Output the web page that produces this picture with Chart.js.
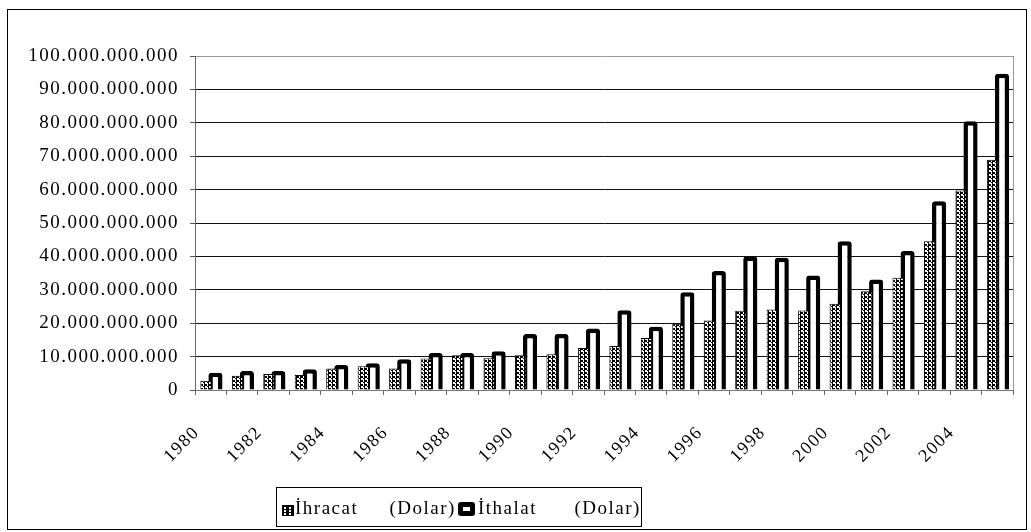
<!DOCTYPE html>
<html>
<head>
<meta charset="utf-8">
<script src="https://cdn.jsdelivr.net/npm/chart.js@4.4.1/dist/chart.umd.min.js"></script>
<style>
  html, body { margin: 0; padding: 0; background: #fff; }
  #wrap { width: 1031px; height: 532px; }
</style>
</head>
<body>
<div id="wrap"><canvas id="tradeChart" width="1031" height="532"></canvas></div>
<script>
const years = ['1980', '1981', '1982', '1983', '1984', '1985', '1986', '1987', '1988', '1989',
    '1990', '1991', '1992', '1993', '1994', '1995', '1996', '1997', '1998', '1999',
    '2000', '2001', '2002', '2003', '2004', '2005'];

const ihracat = [2.8e9, 4.3e9, 4.8e9, 4.5e9, 6.4e9, 7.1e9, 6.4e9, 9.4e9, 10.4e9, 9.5e9,
    10.4e9, 10.7e9, 12.6e9, 13.2e9, 15.6e9, 19.8e9, 20.8e9, 23.7e9, 24.1e9, 23.8e9,
    25.8e9, 29.6e9, 33.6e9, 44.5e9, 59.7e9, 68.9e9];

const ithalat = [5.2e9, 5.7e9, 5.7e9, 6.2e9, 7.5e9, 8.0e9, 9.2e9, 11.1e9, 11.1e9, 11.6e9,
    16.8e9, 16.8e9, 18.4e9, 23.9e9, 18.9e9, 29.3e9, 35.6e9, 40.0e9, 39.6e9, 34.3e9,
    44.5e9, 33.1e9, 41.6e9, 56.5e9, 80.5e9, 94.7e9];

const seriesNames = ['İhracat     (Dolar)', 'İthalat      (Dolar)'];

const yMax = 100e9;
const yStep = 10e9;

// dotted "film strip" fill for the export bars
function makePattern() {
    const tile = document.createElement('canvas');
    tile.width = 4;
    tile.height = 4;
    const t = tile.getContext('2d');
    t.fillStyle = '#fff';
    t.fillRect(0, 0, 4, 4);
    t.fillStyle = '#000';
    t.fillRect(0, 0, 1, 4);
    t.fillRect(1, 0, 2, 2);
    t.fillRect(3, 2, 1, 1);
    return t.createPattern(tile, 'repeat');
}

function dotted(n) {
    return String(n).replace(/\B(?=(\d{3})+(?!\d))/g, '.');
}

Chart.defaults.font.family = "'Liberation Serif', 'Times New Roman', serif";
Chart.defaults.color = '#000';

const spacing = {
    id: 'spacing',
    beforeLayout(chart) { chart.ctx.letterSpacing = '1.5px'; },
    beforeDraw(chart) { chart.ctx.letterSpacing = '1.5px'; }
};

const frame = {
    id: 'frame',
    afterDraw(chart) {
        const ctx = chart.ctx;
        const area = chart.chartArea;
        ctx.save();
        // plot area right edge
        ctx.strokeStyle = '#999';
        ctx.lineWidth = 1;
        ctx.beginPath();
        ctx.moveTo(Math.round(area.right) + 0.5, area.top);
        ctx.lineTo(Math.round(area.right) + 0.5, area.bottom);
        ctx.stroke();

        // outer border
        ctx.strokeStyle = '#000';
        ctx.strokeRect(7.5, 9.5, 1019, 520);

        // legend
        ctx.strokeRect(276.5, 487.5, 365, 39);
        ctx.fillStyle = '#000';
        ctx.fillRect(282, 505, 12, 11);
        ctx.fillStyle = '#fff';
        [284, 289].forEach(x => {
            [507, 510, 513].forEach(y => ctx.fillRect(x, y, 2, 2));
        });
        ctx.fillStyle = '#000';
        ctx.beginPath();
        ctx.roundRect(458, 502, 17, 14, 3);
        ctx.fill();
        ctx.fillStyle = '#fff';
        ctx.fillRect(463, 507, 7, 4);

        ctx.fillStyle = '#000';
        ctx.font = "19px 'Liberation Serif'";
        ctx.textAlign = 'left';
        ctx.textBaseline = 'alphabetic';
        ctx.fillText(seriesNames[0], 295, 514);
        ctx.fillText(seriesNames[1], 478, 514);
        ctx.restore();
    }
};

const ctx = document.getElementById('tradeChart').getContext('2d');
const tradeChart = new Chart(ctx, {
    type: 'bar',
    data: {
        labels: years,
        datasets: [{
            label: seriesNames[0],
            data: ihracat,
            backgroundColor: makePattern(),
            borderColor: '#000',
            borderWidth: 1,
            categoryPercentage: 0.6,
            barPercentage: 1.2
        }, {
            label: seriesNames[1],
            data: ithalat,
            backgroundColor: '#fff',
            borderColor: '#000',
            borderWidth: 4.5,
            borderRadius: 3,
            borderSkipped: 'bottom',
            categoryPercentage: 0.6,
            barPercentage: 1.5
        }]
    },
    options: {
        responsive: false,
        animation: false,
        layout: { padding: { left: 0, right: 18, top: 56, bottom: 0 } },
        plugins: {
            legend: { display: false },
            tooltip: { enabled: false }
        },
        scales: {
            x: {
                grid: {
                    drawOnChartArea: false,
                    tickLength: 5,
                    tickColor: '#666',
                    offset: true
                },
                border: { color: '#777' },
                ticks: {
                    autoSkip: false,
                    minRotation: 45,
                    maxRotation: 45,
                    labelOffset: -14,
                    padding: 27,
                    font: { size: 18 },
                    callback: function(value, index) {
                        return index % 2 === 0 ? this.getLabelForValue(value) : '';
                    }
                },
                afterFit(scale) {
                    scale.height = 142;
                    scale.paddingLeft = 0;
                    scale.paddingRight = 0;
                }
            },
            y: {
                min: 0,
                max: yMax,
                grid: {
                    color: c => c.tick.value === yMax ? '#999' : '#111',
                    tickLength: 5,
                    tickColor: '#555'
                },
                border: { color: '#666' },
                ticks: {
                    stepSize: yStep,
                    padding: 11,
                    font: { size: 19 },
                    callback: v => dotted(v)
                },
                afterFit(scale) { scale.width = 195; }
            }
        }
    },
    plugins: [spacing, frame]
});
</script>
</body>
</html>
